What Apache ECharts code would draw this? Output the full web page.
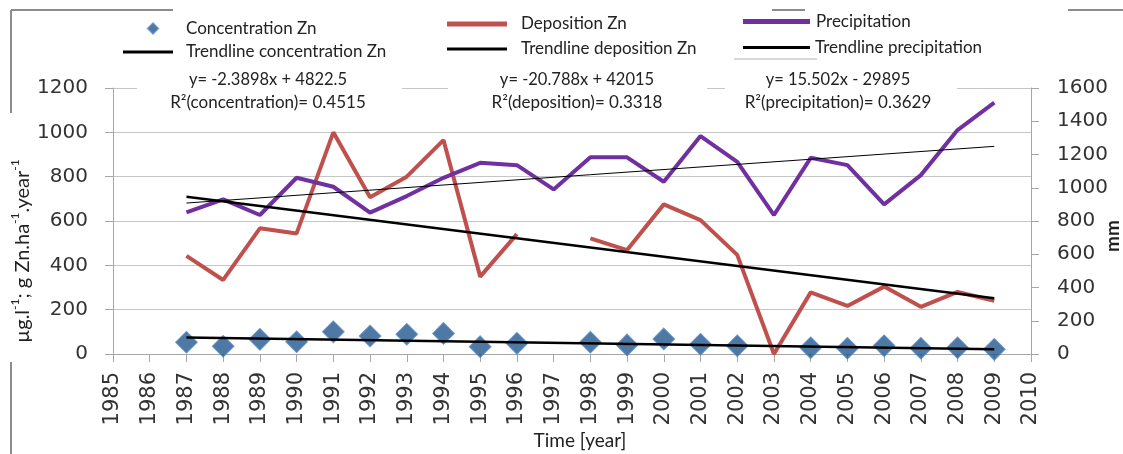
<!DOCTYPE html>
<html>
<head>
<meta charset="utf-8">
<script src="https://cdn.jsdelivr.net/npm/echarts@6/dist/echarts.min.js"></script>
<style>html,body{margin:0;padding:0;background:#fff}#c{width:1123px;height:454px}</style>
</head>
<body>
<div id="c"></div>
<script>
// ---------- data ----------
const years = [1987,1988,1989,1990,1991,1992,1993,1994,1995,1996,1997,1998,1999,2000,2001,2002,2003,2004,2005,2006,2007,2008,2009];
const concentrationZn = [53,35,66,55,100,81,89,93,33,48,null,53,41,68,44,37,null,28,26,37,26,28,21];
const depositionZn = [443,334,567,544,1000,707,800,965,349,541,null,522,469,675,604,447,0,278,217,304,213,280,240];
const precipitation = [852,930,836,1060,1006,850,950,1060,1150,1136,990,1183,1183,1036,1311,1156,836,1180,1136,900,1076,1347,1512];
const trendYears = [1987, 2009];
const trendConcentration = [74, 21];
const trendDeposition = [709, 252];
const trendPrecipitation = [908, 1249];
const equationLines = ['y= -2.3898x + 4822.5', 'y= -20.788x + 42015', 'y= 15.502x - 29895'];
const r2Lines = ['R²(concentration)= 0.4515', 'R²(deposition)= 0.3318', 'R²(precipitation)= 0.3629'];
const xRange = [1985, 2010, 1];
const leftRange = [0, 1200, 200];
const rightRange = [0, 1600, 200];

// ---------- chart ----------
const chart = echarts.init(document.getElementById('c'), null, {renderer: 'canvas'});
const pairs = (xs, ys) => xs.map((x, i) => [x, ys[i]]);
const TXT = '#222';
const AX = '#a6a6a6';
const numFont = 'DejaVu Sans';
const txtFont = 'Lato';

const legendBase = {
  orient: 'vertical', padding: 0, itemGap: 0, selectedMode: false,
  textStyle: {fontFamily: txtFont, fontSize: 17, color: TXT}
};
function lg(name, icon, left, top, w, h, padLeft) {
  return Object.assign({}, legendBase, {
    data: [{name: name, icon: icon}], left: left, top: top, itemWidth: w, itemHeight: h,
    textStyle: Object.assign({}, legendBase.textStyle, {padding: [0, 0, 0, padLeft]})
  });
}

const annBoxes = [[137, 402], [448, 707], [725, 957]];
const annCenters = [268, 577, 838];
const graphics = [];
annBoxes.forEach(b => graphics.push({type: 'rect', z: 50, silent: true,
  shape: {x: b[0], y: 70, width: b[1] - b[0], height: 44}, style: {fill: '#fff'}}));
annCenters.forEach((cx, i) => {
  graphics.push({type: 'text', z: 51, silent: true, style: {text: equationLines[i], x: cx, y: 80,
    textAlign: 'center', textVerticalAlign: 'middle', font: '16.5px Lato', fill: TXT}});
  graphics.push({type: 'text', z: 51, silent: true, style: {text: r2Lines[i], x: cx, y: 103,
    textAlign: 'center', textVerticalAlign: 'middle', font: '17px Lato', fill: TXT}});
});
// frame remnants
const frameLines = [[11, 10, 173, 10], [11, 10, 11, 113], [11, 362, 11, 454], [1068, 10, 1123, 10], [772, 10, 805, 10]];
frameLines.forEach(l => graphics.push({type: 'line', z: 52, silent: true,
  shape: {x1: l[0], y1: l[1], x2: l[2], y2: l[3]}, style: {stroke: '#8c8c8c', lineWidth: 2}}));
graphics.push({type: 'line', z: 52, silent: true, shape: {x1: 734, y1: 59, x2: 817, y2: 59},
  style: {stroke: '#b0b0b0', lineWidth: 1}});

const option = {
  backgroundColor: '#fff',
  animation: false,
  grid: {left: 113, right: 92, top: 88, bottom: 100, containLabel: false, outerBoundsMode: 'none'},
  legend: [
    lg('Concentration Zn', 'diamond', 147, 20, 10, 10, 23),
    lg('Trendline concentration Zn', 'rect', 123, 43.5, 50, 3, 8),
    lg('Deposition Zn', 'rect', 447, 15.5, 60, 5, 9),
    lg('Trendline deposition Zn', 'rect', 447, 40.5, 60, 3, 9),
    lg('Precipitation', 'rect', 743, 13, 67, 5, 1),
    lg('Trendline precipitation', 'rect', 743, 39, 67, 3, 0)
  ],
  xAxis: {
    type: 'value', min: xRange[0], max: xRange[1], interval: xRange[2],
    name: 'Time [year]', nameLocation: 'middle', nameGap: 77, nameMoveOverlap: false,
    nameTextStyle: {fontFamily: txtFont, fontSize: 19, color: TXT, padding: [0, 0, 0, 16]},
    axisLine: {show: true, lineStyle: {color: AX, width: 1}},
    axisTick: {show: true, inside: false, length: 8, lineStyle: {color: AX}},
    axisLabel: {rotate: 90, margin: 18, fontFamily: numFont, fontSize: 21, color: '#333',
      formatter: v => String(v)},
    splitLine: {show: false}
  },
  yAxis: [{
    type: 'value', min: leftRange[0], max: leftRange[1], interval: leftRange[2], position: 'left',
    name: '{n|µg.l}{s|-1}{n|; g Zn.ha}{s|-1}{n|.year}{s|-1}',
    nameLocation: 'middle', nameRotate: 90, nameGap: 80, nameMoveOverlap: false,
    nameTextStyle: {color: TXT, padding: [0, 60, 0, 0],
      rich: {n: {fontFamily: txtFont, fontSize: 20, color: TXT, lineHeight: 24, verticalAlign: 'bottom'},
             s: {fontFamily: txtFont, fontSize: 12, color: TXT, lineHeight: 24, verticalAlign: 'top'}}},
    axisLine: {show: true, lineStyle: {color: AX, width: 1}},
    axisTick: {show: true, inside: false, length: 8, lineStyle: {color: AX}},
    axisLabel: {margin: 25, fontFamily: numFont, fontSize: 20, color: '#333', formatter: v => String(v)},
    splitLine: {show: true, lineStyle: {color: '#c6c6c6', width: 1}}
  }, {
    type: 'value', min: rightRange[0], max: rightRange[1], interval: rightRange[2], position: 'right',
    name: 'mm', nameLocation: 'middle', nameRotate: 90, nameGap: 72, nameMoveOverlap: false,
    nameTextStyle: {fontFamily: txtFont, fontSize: 19, fontWeight: 'bold', color: TXT, padding: [0, 30, 0, 0]},
    axisLine: {show: true, lineStyle: {color: AX, width: 1}},
    axisTick: {show: true, inside: false, length: 8, lineStyle: {color: AX}},
    axisLabel: {margin: 26, fontFamily: numFont, fontSize: 20, color: '#333', formatter: v => String(v)},
    splitLine: {show: false}
  }],
  series: [
    {name: 'Deposition Zn', type: 'line', yAxisIndex: 0, z: 2, data: pairs(years, depositionZn),
      connectNulls: false, symbol: 'none', color: '#c0504d', lineStyle: {color: '#c0504d', width: 4}},
    {name: 'Precipitation', type: 'line', yAxisIndex: 1, z: 3, data: pairs(years, precipitation),
      symbol: 'none', color: '#7030a0', lineStyle: {color: '#7030a0', width: 4}},
    {name: 'Concentration Zn', type: 'scatter', yAxisIndex: 0, z: 4,
      data: pairs(years, concentrationZn).filter(p => p[1] !== null),
      symbol: 'diamond', symbolSize: 21, color: '#23578f',
      itemStyle: {color: '#23578f', borderColor: '#4f7fb8', borderWidth: 1.5}},
    {name: 'Trendline concentration Zn', type: 'line', yAxisIndex: 0, z: 5, data: pairs(trendYears, trendConcentration),
      symbol: 'none', color: '#000', lineStyle: {color: '#000', width: 2.5}},
    {name: 'Trendline deposition Zn', type: 'line', yAxisIndex: 0, z: 5, data: pairs(trendYears, trendDeposition),
      symbol: 'none', color: '#000', lineStyle: {color: '#000', width: 2.5}},
    {name: 'Trendline precipitation', type: 'line', yAxisIndex: 1, z: 5, data: pairs(trendYears, trendPrecipitation),
      symbol: 'none', color: '#000', lineStyle: {color: '#000', width: 1}}
  ],
  graphic: graphics
};
chart.setOption(option);
</script>
</body>
</html>
